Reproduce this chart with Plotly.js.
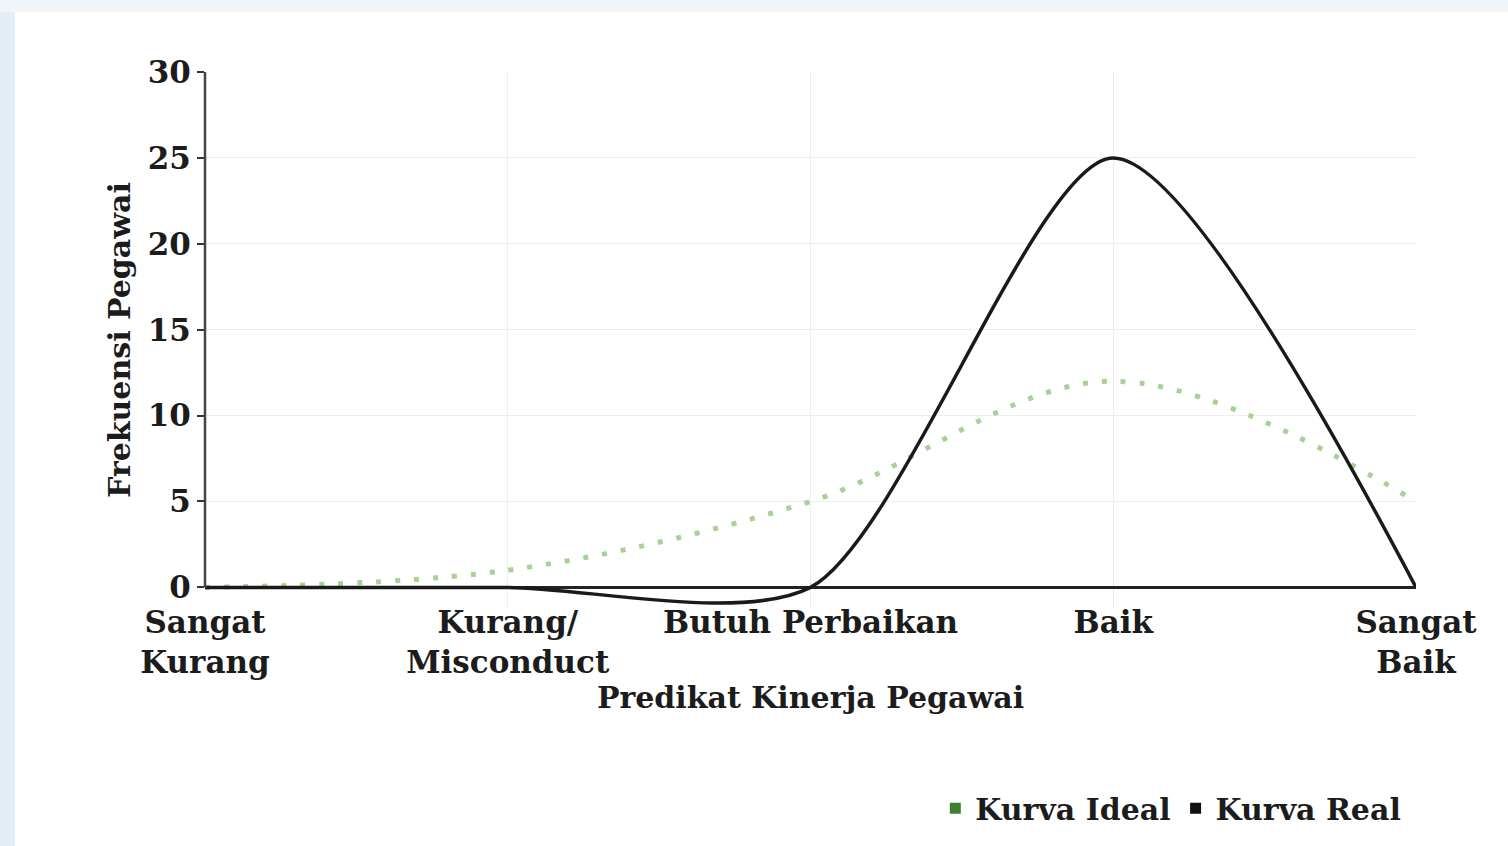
<!DOCTYPE html>
<html>
<head>
<meta charset="utf-8">
<script src="https://cdn.plot.ly/plotly-3.0.1.min.js"></script>
<style>
  html, body { margin: 0; padding: 0; background: #ffffff; }
  #chart { width: 1508px; height: 846px; }
</style>
</head>
<body>
<div id="chart"></div>
<script>
const categories = ["Sangat<br>Kurang", "Kurang/<br>Misconduct", "Butuh Perbaikan", "Baik", "Sangat<br>Baik"];
const idealValues = [0, 1, 5, 12, 5];
const realValues = [0, 0, 0, 25, 0];
const seriesNames = ["Kurva Ideal", "Kurva Real"];
const yTicks = [0, 5, 10, 15, 20, 25, 30];

const FONT = "DejaVu Serif, serif";
const xIdx = categories.map((_, i) => i);
const TXT = "#1c1c1c";

const traces = [
  {
    x: xIdx, y: idealValues, mode: "lines", showlegend: false,
    line: { color: "#a8d196", width: 5, dash: "5px,14px", shape: "spline", smoothing: 1 },
    hoverinfo: "skip"
  },
  {
    x: xIdx, y: realValues, mode: "lines", showlegend: false,
    line: { color: "#1a1a1a", width: 3.5, shape: "spline", smoothing: 0.75 },
    hoverinfo: "skip"
  },
  {
    x: [null], y: [null], mode: "markers", name: seriesNames[0],
    marker: { symbol: "square", size: 11, color: "#3f7f2f" }
  },
  {
    x: [null], y: [null], mode: "markers", name: seriesNames[1],
    marker: { symbol: "square", size: 11, color: "#111111" }
  }
];

const layout = {
  width: 1508, height: 846,
  paper_bgcolor: "#ffffff", plot_bgcolor: "#ffffff",
  margin: { l: 205, r: 92, t: 72, b: 238 },
  font: { family: FONT, color: TXT, size: 30, weight: "bold" },
  showlegend: true,
  legend: {
    orientation: "h", x: 0.992, xanchor: "right", y: -0.325, yanchor: "top",
    font: { family: FONT, size: 30, color: TXT, weight: "bold" },
    itemwidth: 30, tracegroupgap: 0
  },
  xaxis: {
    range: [0, 4],
    tickmode: "array", tickvals: xIdx, ticktext: categories,
    showgrid: true, gridcolor: "#eeeeee", gridwidth: 1,
    showline: false, zeroline: false, ticks: "",
    ticklabelstandoff: -7,
    tickfont: { family: FONT, size: 31, color: TXT, weight: "bold" },
    title: { text: "Predikat Kinerja Pegawai", standoff: 2,
             font: { family: FONT, size: 30, color: TXT, weight: "bold" } },
    fixedrange: true
  },
  yaxis: {
    range: [-1.2, 30],
    tickmode: "array", tickvals: yTicks,
    showgrid: true, gridcolor: "#eeeeee", gridwidth: 1,
    showline: false,
    zeroline: true, zerolinecolor: "#222222", zerolinewidth: 3.5,
    ticks: "outside", ticklen: 7, tickwidth: 2, tickcolor: "#333333",
    tickfont: { family: FONT, size: 31, color: TXT, weight: "bold" },
    title: { text: "Frekuensi Pegawai", standoff: 8,
             font: { family: FONT, size: 30, color: TXT, weight: "bold" } },
    fixedrange: true
  },
  shapes: [
    { type: "line", xref: "paper", yref: "y", x0: 0, x1: 0, y0: 0, y1: 30,
      line: { color: "#444444", width: 2.5 }, layer: "above" },
    { type: "rect", xref: "paper", yref: "paper",
      x0: -205 / 1211, x1: -190 / 1211, y0: -238 / 536, y1: 72 / 536 + 1,
      fillcolor: "#e3edf5", line: { width: 0 }, layer: "below" },
    { type: "rect", xref: "paper", yref: "paper",
      x0: -205 / 1211, x1: 1 + 92 / 1211, y0: 1 + 60 / 536, y1: 1 + 72 / 536,
      fillcolor: "#f0f5f9", line: { width: 0 }, layer: "below" }
  ]
};

Plotly.newPlot("chart", traces, layout, { displayModeBar: false, staticPlot: true });
</script>
</body>
</html>
